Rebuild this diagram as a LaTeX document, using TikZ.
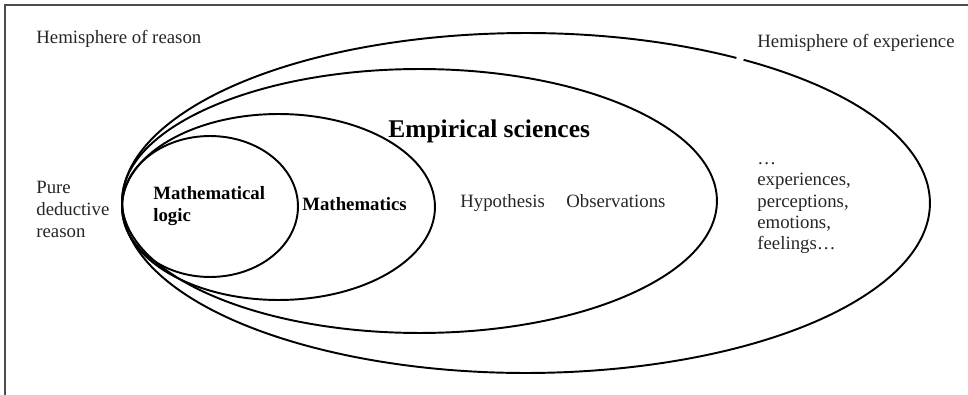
\documentclass[tikz,border=0pt]{standalone}
\usepackage{fontspec}
\setmainfont{Liberation Serif}

\begin{document}
\begin{tikzpicture}[x=0.02cm, y=-0.02cm,
    frame/.style={draw=black!70, line width=1pt},
    region/.style={draw=black, line width=1.1pt},
    note/.style={font=\fontsize{10.7}{12.5}\selectfont, text=black!85, inner sep=0pt, anchor=base west, align=left},
    heading/.style={font=\fontsize{14.5}{17}\selectfont\bfseries, inner sep=0pt, anchor=base west},
    field/.style={font=\fontsize{10.7}{13}\selectfont\bfseries, inner sep=0pt, anchor=base west, align=left}
]
\useasboundingbox (0,0) rectangle (968,395);

% Frame (top and left edge only)
\draw[frame] (5,395) -- (5,5) -- (968,5);

% Nested regions
\draw[region] (210,206.5) ellipse [x radius=1.76cm, y radius=1.41cm];
\draw[region] (278.5,207) ellipse [x radius=3.13cm, y radius=1.86cm];
\draw[region] (419.5,201) ellipse [x radius=5.95cm, y radius=2.64cm];
\coordinate (outer) at (526,203);
\draw[region] ([shift={(58.6:8.08cm and 3.4cm)}]outer)
    arc [start angle=58.6, end angle=417.4, x radius=8.08cm, y radius=3.4cm];

% Labels (multi-line nodes sit on their last baseline)
\node[note] (reason) at (36,44) {Hemisphere of reason};
\node[note] (experience) at (757,48) {Hemisphere of experience};
\node[note] (pure) at (36,237) {Pure\\deductive\\reason};
\node[heading] (empirical) at (388,138) {Empirical sciences};
\node[field] (logic) at (153,222) {Mathematical\\logic};
\node[field] (maths) at (302,211) {Mathematics};
\node[note] (hypothesis) at (460,208) {Hypothesis};
\node[note] (observations) at (566,208) {Observations};
\node[note, font=\fontsize{10.7}{12.2}\selectfont] (feelings) at (757,250)
    {…\\experiences,\\perceptions,\\emotions,\\feelings…};

\end{tikzpicture}
\end{document}
